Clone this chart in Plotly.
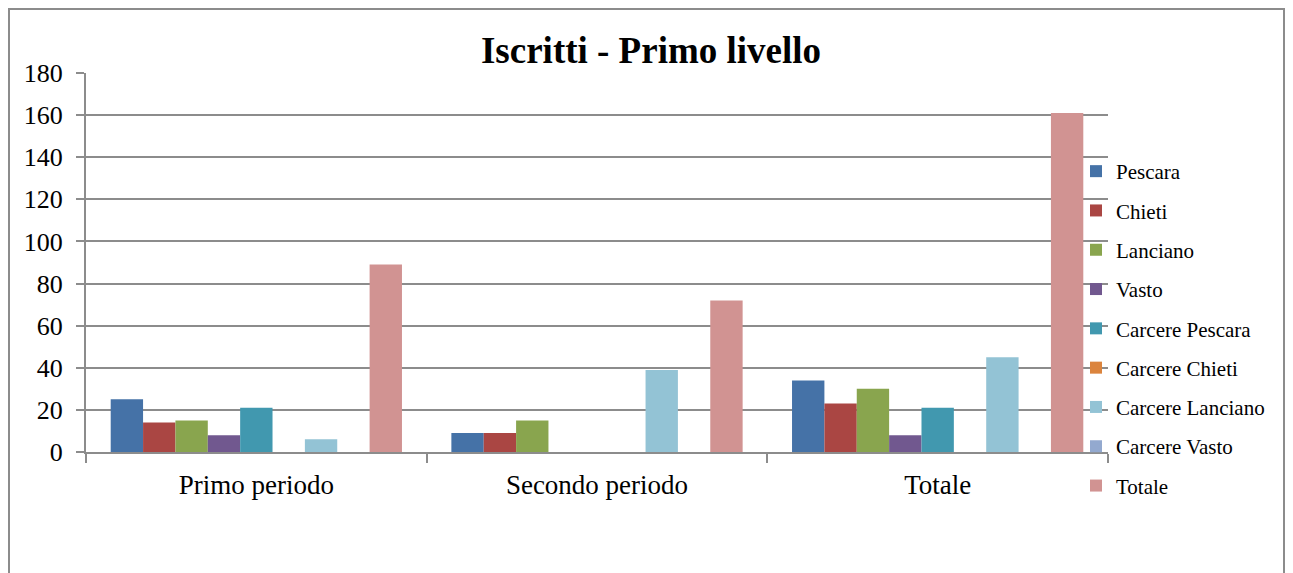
import plotly.graph_objects as go

SERIF = "Liberation Serif, Times New Roman, serif"
GRID = "#8c8c8c"

categories = ["Primo periodo", "Secondo periodo", "Totale"]
series_names = [
    "Pescara", "Chieti", "Lanciano", "Vasto", "Carcere Pescara",
    "Carcere Chieti", "Carcere Lanciano", "Carcere Vasto", "Totale",
]
pescara = [25, 9, 34]
chieti = [14, 9, 23]
lanciano = [15, 15, 30]
vasto = [8, 0, 8]
carcere_pescara = [21, 0, 21]
carcere_chieti = [0, 0, 0]
carcere_lanciano = [6, 39, 45]
carcere_vasto = [0, 0, 0]
totale = [89, 72, 161]
series_values = [
    pescara, chieti, lanciano, vasto, carcere_pescara,
    carcere_chieti, carcere_lanciano, carcere_vasto, totale,
]
colors = [
    "#4572a7", "#aa4643", "#89a54e", "#71588f", "#4198af",
    "#db843d", "#93c3d5", "#93a9cf", "#d19392",
]

fig = go.Figure()
for i, (name, vals, col) in enumerate(zip(series_names, series_values, colors)):
    fig.add_trace(go.Bar(
        x=categories, y=vals, name=name, marker_color=col,
        marker_line_width=0, legendgroup=f"g{i}",
    ))

# figure pixels (page has an 8px body margin); plot area x 78..1100, y 65..444
W, H = 1277, 573
L, R, T, B = 78, 1100, 65, 444
pw, ph = R - L, B - T


def px_x(px):
    return (px - L) / pw


def px_y(py):
    return (B - py) / ph


fig.update_layout(
    width=W, height=H,
    margin=dict(l=L, r=W - R, t=T, b=H - B, autoexpand=False),
    paper_bgcolor="white", plot_bgcolor="white",
    font=dict(family=SERIF, color="#000000", size=21),
    barmode="group", bargap=0.145, bargroupgap=0,
    title=dict(text="<b>Iscritti - Primo livello</b>", x=643 / W, xanchor="center",
               y=1 - 42 / H, yanchor="middle", font=dict(size=37, family=SERIF)),
    legend=dict(x=px_x(1068), xanchor="left", y=px_y(143), yanchor="top",
                font=dict(size=21, family=SERIF), tracegroupgap=9,
                itemwidth=30, bgcolor="rgba(0,0,0,0)"),
    showlegend=True,
)
fig.update_yaxes(
    range=[0, 180], dtick=20, showgrid=True, gridcolor=GRID, gridwidth=2,
    showline=True, linecolor=GRID, linewidth=2, ticks="outside",
    ticklen=8, tickcolor=GRID, tickwidth=2, tickfont=dict(size=26),
    ticklabelstandoff=8, zeroline=False,
)
fig.update_xaxes(
    showline=True, linecolor=GRID, linewidth=2, ticks="outside",
    tickson="boundaries", ticklen=9, tickcolor=GRID, tickwidth=2,
    tickfont=dict(size=27), ticklabelstandoff=8, showgrid=False,
)
fig.add_shape(type="rect", xref="paper", yref="paper",
              x0=px_x(1), x1=px_x(W - 1), y0=px_y(H + 20), y1=px_y(1),
              line=dict(color="#8c8c8c", width=2), layer="below")

fig.write_html("out.html")
